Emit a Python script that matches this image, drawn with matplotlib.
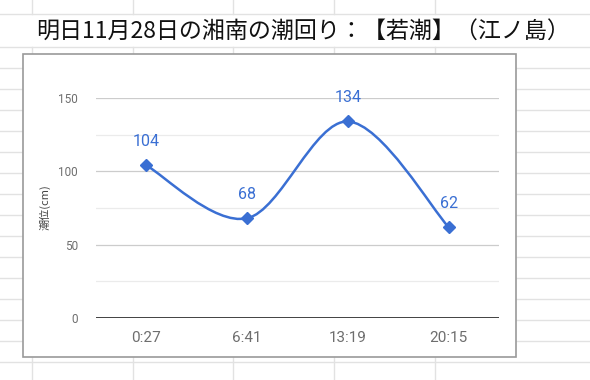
import numpy as np
import matplotlib
matplotlib.use("Agg")
import matplotlib.pyplot as plt
from matplotlib.path import Path
from matplotlib.patches import PathPatch, Rectangle
from matplotlib.lines import Line2D
from matplotlib.ticker import MultipleLocator

plt.rcParams['font.family'] = ['Noto Sans CJK JP', 'DejaVu Sans']

# データ
times = ["0:27", "6:41", "13:19", "20:15"]
tide = [104, 68, 134, 62]
title = "明日11月28日の湘南の潮回り：【若潮】（江ノ島）"
ylabel = "潮位(cm)"
yticks = [0, 50, 100, 150]

W, H = 590, 380
fig = plt.figure(figsize=(W / 100, H / 100), dpi=100)
fig.patch.set_facecolor("white")

def fx(px):
    return px / W

def fy(py):
    return 1 - py / H

# スプレッドシートのセル罫線
cell = "#e2e2e2"
rows = [14, 47] + list(range(68, 381, 21))
for r in rows:
    fig.add_artist(Line2D([0, 1], [fy(r), fy(r)], color=cell, lw=1, zorder=-3))
for c in [32, 133, 233, 334, 435]:
    # タイトル行は文字がはみ出しているので縦線なし
    fig.add_artist(Line2D([fx(c), fx(c)], [fy(0), fy(14)], color=cell, lw=1, zorder=-3))
    fig.add_artist(Line2D([fx(c), fx(c)], [fy(47), fy(380)], color=cell, lw=1, zorder=-3))

fig.text(fx(36), fy(31), title, fontsize=16.6, color="#111111", va="center", ha="left")

# グラフの枠
fig.add_artist(Rectangle((fx(23), fy(357)), fx(516) - fx(23), fy(54) - fy(357),
                         facecolor="white", edgecolor="#9a9a9a", lw=1.2, zorder=-1))

ax = fig.add_axes([fx(96), fy(318), fx(499) - fx(96), fy(98) - fy(318)])
ax.set_facecolor("none")
x = np.arange(len(times))
ax.set_xlim(-0.5, len(times) - 0.5)
ax.set_ylim(0, 150)

for s in ax.spines.values():
    s.set_visible(False)
ax.yaxis.set_major_locator(MultipleLocator(50))
ax.yaxis.set_minor_locator(MultipleLocator(25))
ax.grid(axis="y", which="major", color="#cccccc", lw=0.9)
ax.grid(axis="y", which="minor", color="#ebebeb", lw=0.9)
ax.axhline(0, color="#333333", lw=1.3, zorder=2)
ax.set_axisbelow(True)

ax.set_yticks(yticks)
ax.set_xticks(x)
ax.set_xticklabels(times, fontsize=11, color="#6e6e6e", family=["Roboto", "DejaVu Sans"])
ax.tick_params(axis="x", length=0, pad=9)
ax.tick_params(axis="y", which="both", length=0, pad=13, labelsize=8.5, labelcolor="#6e6e6e")
for lab in ax.get_yticklabels():
    lab.set_family(["Roboto", "DejaVu Sans"])

fig.text(fx(45), fy(207), ylabel, rotation=90, fontsize=8, color="#444444",
         ha="center", va="center")

# 滑らかな線 (Catmull-Rom → ベジェ)
blue = "#3a6fd3"
pts = np.column_stack([x, tide]).astype(float)
n = len(pts)
verts = [pts[0]]
codes = [Path.MOVETO]
for i in range(n - 1):
    p0 = pts[i - 1] if i > 0 else pts[i]
    p1, p2 = pts[i], pts[i + 1]
    p3 = pts[i + 2] if i + 2 < n else pts[i + 1]
    c1 = p1 + (p2 - p0) / 6
    c2 = p2 - (p3 - p1) / 6
    verts += [c1, c2, p2]
    codes += [Path.CURVE4] * 3
ax.add_patch(PathPatch(Path(verts, codes), facecolor="none", edgecolor=blue, lw=1.8, zorder=3))
ax.plot(x, tide, linestyle="none", marker="D", markersize=6.5, color=blue, zorder=4)

for xi, v in zip(x, tide):
    ax.annotate(str(v), (xi, v), xytext=(0, 11.5), textcoords="offset points",
                ha="center", va="bottom", fontsize=11.5, color=blue,
                family=["Roboto", "DejaVu Sans"], annotation_clip=False)

fig.savefig("out.png", dpi=100)
